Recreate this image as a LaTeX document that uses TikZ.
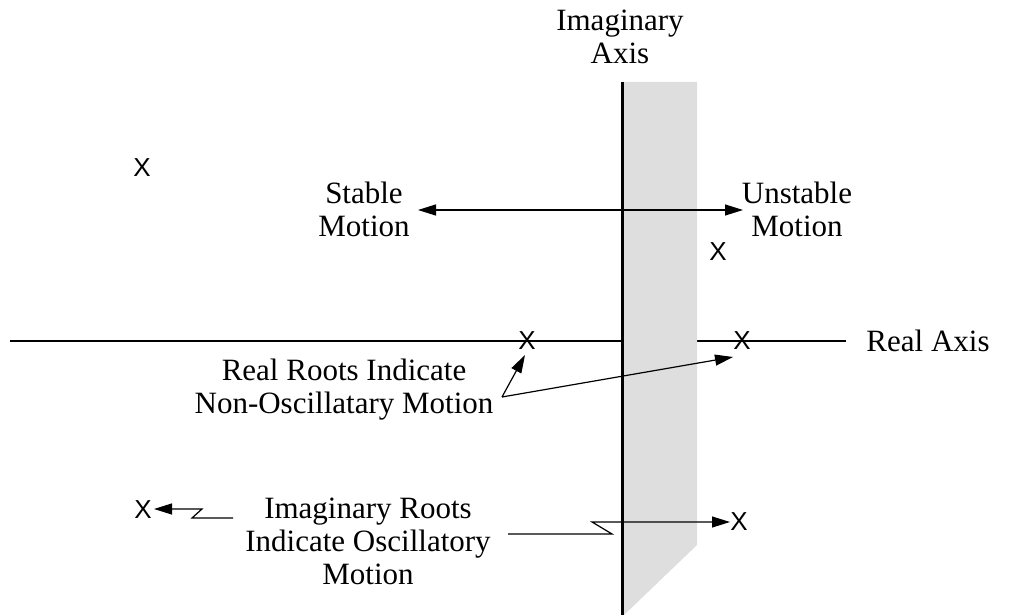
\documentclass[tikz,border=0pt]{standalone}
\usepackage{fontspec}
\setmainfont{Liberation Serif}
\newfontfamily\xfont{Liberation Sans}
\usetikzlibrary{arrows.meta}
\definecolor{bandgray}{HTML}{DEDEDE}
\begin{document}
\begin{tikzpicture}[x=1pt,y=-1pt,
  lbl/.style={font=\fontsize{31}{33}\selectfont, align=center, inner sep=0pt},
  root/.style={font=\xfont\fontsize{26}{26}\selectfont, inner sep=0pt},
  ln/.style={line width=1.2pt},
  tip/.style={-{Triangle[length=18pt,width=11pt]}},
  arr/.style={ln, tip},
]
\useasboundingbox (0,0) rectangle (1021,615);
% real axis
\coordinate (ra0) at (10,341);
\coordinate (ra1) at (846,341);
\draw[ln] (ra0) -- (ra1);
% unstable region band
\fill[bandgray] (622,82) -- (697,82) -- (697,545) -- (624,615) -- (622,615) -- cycle;
% imaginary axis
\coordinate (ia0) at (622,82);
\coordinate (ia1) at (622,615);
\draw[line width=3pt] (ia0) -- (ia1);

% labels
\node[lbl] (imag) at (620,37) {Imaginary\\Axis};
\node[lbl] (stable) at (364,209) {Stable\\Motion};
\node[lbl] (unstable) at (797,209) {Unstable\\Motion};
\node[lbl] (realax) at (928,341) {Real Axis};
\node[lbl] (realroots) at (344,390) {Real Roots Indicate\\Non-Oscillatary Motion};
\node[lbl] (imroots) at (368,541) {Imaginary Roots\\Indicate Oscillatory\\Motion};

% roots
\node[root] (x1) at (142,168) {X};
\node[root] (x2) at (718,252) {X};
\node[root] (x3) at (527,341) {X};
\node[root] (x4) at (742,341) {X};
\node[root] (x5) at (143,510) {X};
\node[root] (x6) at (739,522) {X};

% stable / unstable arrow
\coordinate (sa) at (418,210);
\coordinate (ua) at (743,210);
\draw[ln, {Triangle[length=18pt,width=11pt]}-{Triangle[length=18pt,width=11pt]}] (sa) -- (ua);

% real roots arrows
\coordinate (rr) at (502,397);
\coordinate (rt3) at (525,355);
\coordinate (rt4) at (733,357);
\draw[arr] (rr) -- (rt3);
\draw[arr] (rr) -- (rt4);

% imaginary roots arrows (with break marks)
\coordinate (il0) at (233,518);
\coordinate (il1) at (192,518);
\coordinate (il2) at (202,509);
\coordinate (il3) at (154,509);
\draw[arr] (il0) -- (il1) -- (il2) -- (il3);
\coordinate (ir0) at (508,534);
\coordinate (ir1) at (612,534);
\coordinate (ir2) at (592,522);
\coordinate (ir3) at (730,522);
\draw[arr] (ir0) -- (ir1) -- (ir2) -- (ir3);
\end{tikzpicture}
\end{document}
